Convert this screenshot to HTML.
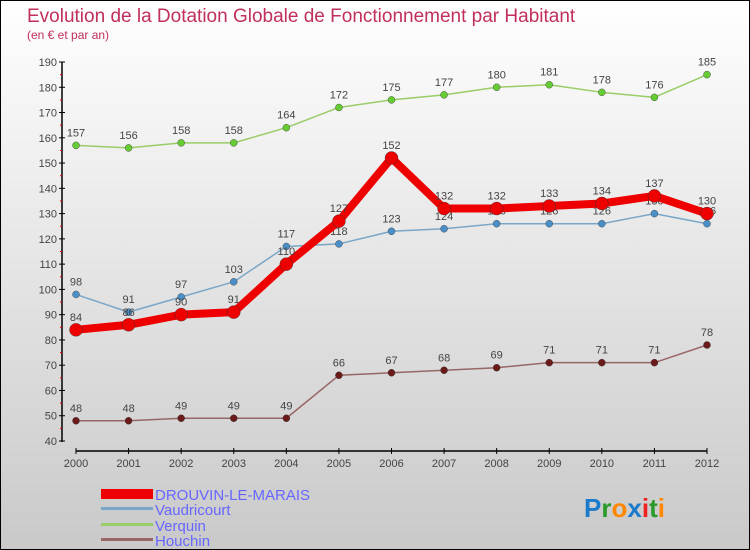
<!DOCTYPE html>
<html><head><meta charset="utf-8"><style>
html,body{margin:0;padding:0}
body{width:750px;height:550px;overflow:hidden;font-family:"Liberation Sans",sans-serif}
#wrap{position:relative;width:748px;height:548px;border:1px solid #000;background:linear-gradient(#fff,#c9c9c9)}
</style></head><body>
<div id="wrap">
<svg id="chart" width="748" height="548" style="position:absolute;left:0;top:0">
<text x="26" y="21" font-size="19" fill="#c0305a">Evolution de la Dotation Globale de Fonctionnement par Habitant</text>
<text x="26" y="38" font-size="12" fill="#c0305a">(en € et par an)</text>
<g id="axes"></g><g id="series"></g>
<g>
<rect x="100" y="488" width="52" height="10" fill="#e00"/>
<text x="154" y="499" font-size="15" fill="#66f">DROUVIN-LE-MARAIS</text>
<rect x="100" y="506" width="52" height="3" fill="#7aa6c8"/>
<text x="154" y="514" font-size="15" fill="#66f">Vaudricourt</text>
<rect x="100" y="522" width="52" height="3" fill="#9c6"/>
<text x="154" y="530" font-size="15" fill="#66f">Verquin</text>
<rect x="100" y="537" width="52" height="3" fill="#966"/>
<text x="154" y="545" font-size="15" fill="#66f">Houchin</text>
</g>
<text x="583" y="516" font-size="26" font-weight="bold"><tspan fill="#1a7acc">P</tspan><tspan fill="#2a9a2a">r</tspan><tspan fill="#f80">o</tspan><tspan fill="#1a7acc">x</tspan><tspan fill="#e22">i</tspan><tspan fill="#2a9a2a">t</tspan><tspan fill="#f80">i</tspan></text>
</svg>
</div>
<script>
const years=[2000,2001,2002,2003,2004,2005,2006,2007,2008,2009,2010,2011,2012];
const drouvin=[84,86,90,91,110,127,152,132,132,133,134,137,130];
const vaudricourt=[98,91,97,103,117,118,123,124,126,126,126,130,126];
const verquin=[157,156,158,158,164,172,175,177,180,181,178,176,185];
const houchin=[48,48,49,49,49,66,67,68,69,71,71,71,78];
const yTicks=[40,50,60,70,80,90,100,110,120,130,140,150,160,170,180,190];
const NS='http://www.w3.org/2000/svg';
function xs(i){return 75+i*(706-75)/12;}
function ys(v){return 440-(v-40)*(440-61)/150;}
function mk(tag,attrs,parent){const e=document.createElementNS(NS,tag);for(const k in attrs)e.setAttribute(k,attrs[k]);parent.appendChild(e);return e;}
const ax=document.getElementById('axes');
let l=mk('line',{x1:61,y1:61,x2:61,y2:441,stroke:'#000','stroke-width':1.5},ax);


yTicks.forEach(v=>{
  const y=ys(v);
  mk('line',{x1:58,x2:64,y1:y,y2:y,stroke:'#000'},ax);
  if(v<190) mk('line',{x1:59,x2:61,y1:ys(v+5),y2:ys(v+5),stroke:'#e00'},ax);
  const t=mk('text',{x:56,y:y+4,'font-size':11,fill:'#444','text-anchor':'end'},ax);
  t.textContent=v;
  
  
});
l=mk('line',{x1:75,y1:450,x2:706,y2:450,stroke:'#000','stroke-width':1.5},ax);


years.forEach((yr,i)=>{
  const x=xs(i);
  mk('line',{x1:x,x2:x,y1:447,y2:453,stroke:'#000'},ax);
  const t=mk('text',{x:x,y:466,'font-size':11,fill:'#444','text-anchor':'middle'},ax);
  t.textContent=yr;
  
  
});
const sg=document.getElementById('series');
function draw(name,data,color,dot,w,r){
  const g=mk('g',{},sg);
  
  
  const pl=mk('polyline',{points:data.map((v,i)=>xs(i)+','+ys(v)).join(' '),fill:'none',stroke:color,'stroke-width':w,'stroke-linejoin':'round'},g);
  
  
  data.forEach((v,i)=>{
    const c=mk('circle',{cx:xs(i),cy:ys(v),r:r,fill:dot,stroke:'#333','stroke-width':0.4},g);
    
    
    const t=mk('text',{x:xs(i),y:ys(v)-9,'font-size':11,fill:'#444','text-anchor':'middle'},g);
    t.textContent=v;
    
    
  });
}
draw('houchin',houchin,'#966','#6b1a1a',1.5,3.5);
draw('verquin',verquin,'#9c6','#6c3',1.5,3.5);
draw('vaudricourt',vaudricourt,'#7aa6c8','#4a8fc8',1.5,3.5);
draw('drouvin',drouvin,'#e00','#e00',8,6.5);
</script>
</body></html>
